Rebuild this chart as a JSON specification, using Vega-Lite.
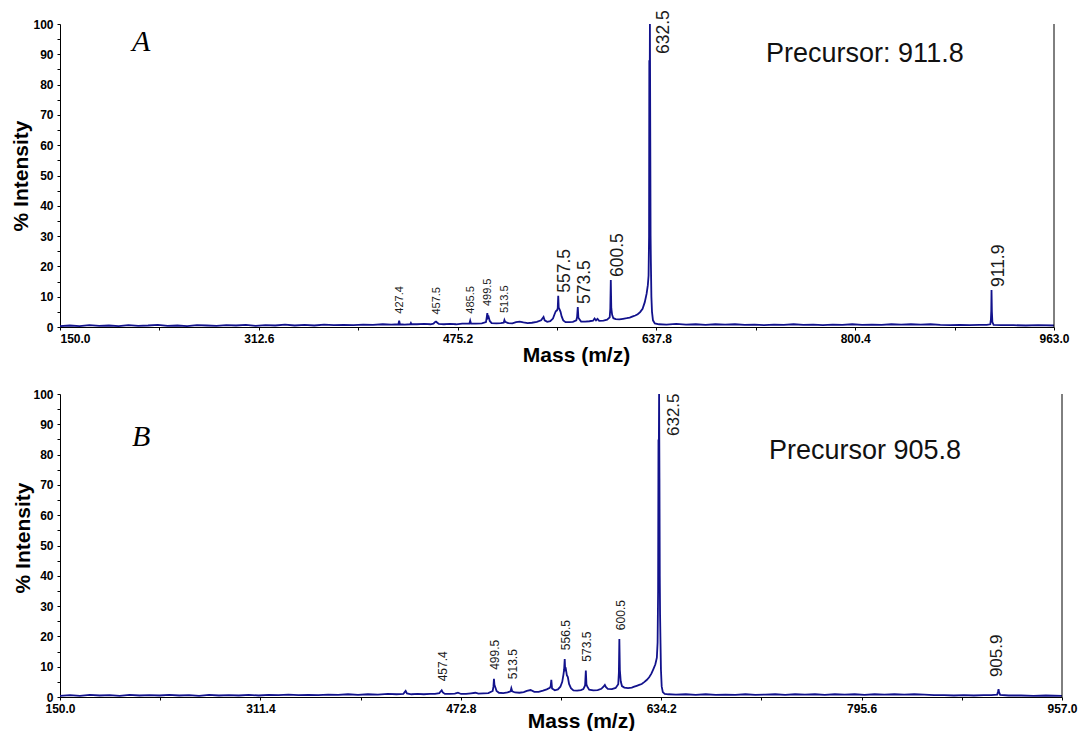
{
  "$schema": "https://vega.github.io/schema/vega-lite/v6.json",
  "autosize": {"type": "pad"},
  "padding": {"left": 10, "top": 10, "right": 0, "bottom": 0},
  "background": "white",
  "config": {
    "view": {"stroke": null},
    "axis": {
      "grid": false,
      "domainColor": "black",
      "domainWidth": 1,
      "tickColor": "black",
      "tickSize": 3,
      "labelColor": "black",
      "labelFont": "Liberation Sans",
      "labelFontWeight": "bold",
      "labelFontSize": 12,
      "labelOverlap": false,
      "labelFlush": false,
      "titleColor": "black",
      "titleFont": "Liberation Sans",
      "titleFontWeight": "bold",
      "titleFontSize": 21
    }
  },
  "datasets": {
    "spectrumA": [
      {"mz": 150, "intensity": 0.3}, {"mz": 158, "intensity": 0.5}, {"mz": 166, "intensity": 0.3}, {"mz": 174, "intensity": 0.6},
      {"mz": 182, "intensity": 0.4}, {"mz": 190, "intensity": 0.5}, {"mz": 198, "intensity": 0.3}, {"mz": 206, "intensity": 0.6},
      {"mz": 214, "intensity": 0.4}, {"mz": 222, "intensity": 0.5}, {"mz": 230, "intensity": 0.7}, {"mz": 238, "intensity": 0.4},
      {"mz": 246, "intensity": 0.5}, {"mz": 254, "intensity": 0.3}, {"mz": 262, "intensity": 0.6}, {"mz": 270, "intensity": 0.5},
      {"mz": 278, "intensity": 0.4}, {"mz": 286, "intensity": 0.6}, {"mz": 294, "intensity": 0.5}, {"mz": 302, "intensity": 0.7},
      {"mz": 310, "intensity": 0.4}, {"mz": 318, "intensity": 0.6}, {"mz": 326, "intensity": 0.5}, {"mz": 334, "intensity": 0.8},
      {"mz": 342, "intensity": 0.5}, {"mz": 350, "intensity": 0.7}, {"mz": 358, "intensity": 0.5}, {"mz": 366, "intensity": 0.8},
      {"mz": 374, "intensity": 0.6}, {"mz": 382, "intensity": 0.7}, {"mz": 390, "intensity": 0.6}, {"mz": 398, "intensity": 0.8},
      {"mz": 406, "intensity": 0.7}, {"mz": 414, "intensity": 0.9}, {"mz": 421, "intensity": 0.8}, {"mz": 426.8, "intensity": 0.9},
      {"mz": 427.4, "intensity": 2.1, "peak": "minor"}, {"mz": 428.0, "intensity": 0.9}, {"mz": 432, "intensity": 0.8},
      {"mz": 436.5, "intensity": 0.9}, {"mz": 437, "intensity": 1.3}, {"mz": 437.5, "intensity": 0.9}, {"mz": 442, "intensity": 0.9},
      {"mz": 448, "intensity": 1.0}, {"mz": 453, "intensity": 0.9}, {"mz": 455.5, "intensity": 1.1}, {"mz": 456.6, "intensity": 1.6},
      {"mz": 457.5, "intensity": 1.8, "peak": "minor"}, {"mz": 458.4, "intensity": 1.5}, {"mz": 459.8, "intensity": 1.0},
      {"mz": 464, "intensity": 0.9}, {"mz": 469, "intensity": 1.0}, {"mz": 474, "intensity": 0.9}, {"mz": 479, "intensity": 1.1},
      {"mz": 484.8, "intensity": 1.1}, {"mz": 485.5, "intensity": 2.1, "peak": "minor"}, {"mz": 486.2, "intensity": 1.1},
      {"mz": 490, "intensity": 1.1}, {"mz": 495, "intensity": 1.2}, {"mz": 498.4, "intensity": 1.6}, {"mz": 499.0, "intensity": 3.1},
      {"mz": 499.5, "intensity": 4.6, "peak": "minor"}, {"mz": 500.0, "intensity": 3.0}, {"mz": 500.6, "intensity": 3.3},
      {"mz": 501.5, "intensity": 2.0}, {"mz": 503, "intensity": 1.3}, {"mz": 507, "intensity": 1.2}, {"mz": 510.5, "intensity": 1.3},
      {"mz": 512.9, "intensity": 1.4}, {"mz": 513.5, "intensity": 2.3, "peak": "minor"}, {"mz": 514.1, "intensity": 1.7},
      {"mz": 516.5, "intensity": 1.3}, {"mz": 520, "intensity": 1.2}, {"mz": 523, "intensity": 1.6}, {"mz": 526, "intensity": 1.8},
      {"mz": 529, "intensity": 1.5}, {"mz": 532.5, "intensity": 1.3}, {"mz": 536, "intensity": 1.4}, {"mz": 540, "intensity": 1.7},
      {"mz": 543.5, "intensity": 2.2}, {"mz": 545.5, "intensity": 3.3}, {"mz": 546.4, "intensity": 2.2}, {"mz": 548.5, "intensity": 1.7},
      {"mz": 551, "intensity": 1.9}, {"mz": 553.2, "intensity": 2.8}, {"mz": 554.5, "intensity": 4.2}, {"mz": 555.5, "intensity": 5.2},
      {"mz": 556.5, "intensity": 5.5}, {"mz": 557.1, "intensity": 6.2}, {"mz": 557.5, "intensity": 10.3, "peak": "major"},
      {"mz": 557.9, "intensity": 6.4}, {"mz": 558.6, "intensity": 5.8}, {"mz": 559.4, "intensity": 5.0}, {"mz": 560.3, "intensity": 3.5},
      {"mz": 561.6, "intensity": 2.2}, {"mz": 563.5, "intensity": 1.6}, {"mz": 566.5, "intensity": 1.6}, {"mz": 569.5, "intensity": 1.7},
      {"mz": 572.3, "intensity": 2.2}, {"mz": 572.9, "intensity": 3.2}, {"mz": 573.5, "intensity": 6.6, "peak": "major"},
      {"mz": 574.0, "intensity": 3.1}, {"mz": 574.7, "intensity": 2.6}, {"mz": 576.2, "intensity": 1.8}, {"mz": 579.5, "intensity": 1.8},
      {"mz": 583, "intensity": 1.9}, {"mz": 586, "intensity": 2.1}, {"mz": 587.2, "intensity": 2.8}, {"mz": 588.4, "intensity": 2.2},
      {"mz": 589.6, "intensity": 2.7}, {"mz": 591, "intensity": 2.0}, {"mz": 594.5, "intensity": 2.1}, {"mz": 597.5, "intensity": 2.4},
      {"mz": 599.6, "intensity": 3.2}, {"mz": 600.1, "intensity": 6.0}, {"mz": 600.5, "intensity": 15.5, "peak": "major"},
      {"mz": 600.9, "intensity": 6.2}, {"mz": 601.6, "intensity": 4.0}, {"mz": 602.6, "intensity": 2.9}, {"mz": 604.5, "intensity": 2.6},
      {"mz": 607.5, "intensity": 2.5}, {"mz": 610.5, "intensity": 2.7}, {"mz": 613.5, "intensity": 2.9}, {"mz": 616, "intensity": 3.1},
      {"mz": 618.5, "intensity": 3.5}, {"mz": 620.5, "intensity": 3.8}, {"mz": 622.5, "intensity": 4.2}, {"mz": 624.5, "intensity": 4.9},
      {"mz": 626.5, "intensity": 6.0}, {"mz": 628.3, "intensity": 8.2}, {"mz": 629.8, "intensity": 11.0}, {"mz": 630.8, "intensity": 13.8},
      {"mz": 631.4, "intensity": 17.0}, {"mz": 631.8, "intensity": 30.0}, {"mz": 632.0, "intensity": 88.0}, {"mz": 632.25, "intensity": 70.0},
      {"mz": 632.5, "intensity": 100, "peak": "base"}, {"mz": 632.8, "intensity": 62.0}, {"mz": 633.05, "intensity": 30.0},
      {"mz": 633.3, "intensity": 21.0}, {"mz": 633.7, "intensity": 10.0}, {"mz": 634.2, "intensity": 5.0}, {"mz": 635, "intensity": 2.2},
      {"mz": 636.5, "intensity": 1.2}, {"mz": 640, "intensity": 0.9}, {"mz": 646, "intensity": 0.8}, {"mz": 654, "intensity": 1.0},
      {"mz": 662, "intensity": 0.8}, {"mz": 670, "intensity": 0.9}, {"mz": 678, "intensity": 0.7}, {"mz": 686, "intensity": 0.9},
      {"mz": 694, "intensity": 0.8}, {"mz": 702, "intensity": 0.9}, {"mz": 710, "intensity": 0.7}, {"mz": 718, "intensity": 0.8},
      {"mz": 726, "intensity": 0.6}, {"mz": 734, "intensity": 0.8}, {"mz": 742, "intensity": 0.7}, {"mz": 750, "intensity": 0.9},
      {"mz": 758, "intensity": 0.7}, {"mz": 766, "intensity": 0.8}, {"mz": 774, "intensity": 0.6}, {"mz": 782, "intensity": 0.8},
      {"mz": 790, "intensity": 0.7}, {"mz": 798, "intensity": 0.9}, {"mz": 806, "intensity": 0.7}, {"mz": 814, "intensity": 0.8},
      {"mz": 822, "intensity": 0.7}, {"mz": 830, "intensity": 0.9}, {"mz": 838, "intensity": 0.8}, {"mz": 846, "intensity": 0.9},
      {"mz": 854, "intensity": 0.8}, {"mz": 862, "intensity": 0.9}, {"mz": 870, "intensity": 0.7}, {"mz": 878, "intensity": 0.6},
      {"mz": 886, "intensity": 0.7}, {"mz": 894, "intensity": 0.6}, {"mz": 902, "intensity": 0.7}, {"mz": 908, "intensity": 0.7},
      {"mz": 910.9, "intensity": 0.9}, {"mz": 911.4, "intensity": 2.5}, {"mz": 911.7, "intensity": 5.5},
      {"mz": 911.9, "intensity": 12.2, "peak": "major"}, {"mz": 912.2, "intensity": 5.0}, {"mz": 912.6, "intensity": 1.6},
      {"mz": 913.6, "intensity": 0.7}, {"mz": 920, "intensity": 0.6}, {"mz": 930, "intensity": 0.6}, {"mz": 940, "intensity": 0.5},
      {"mz": 950, "intensity": 0.6}, {"mz": 963, "intensity": 0.5}
    ],
    "spectrumB": [
      {"mz": 150, "intensity": 0.4}, {"mz": 158, "intensity": 0.6}, {"mz": 166, "intensity": 0.4}, {"mz": 174, "intensity": 0.7},
      {"mz": 182, "intensity": 0.5}, {"mz": 190, "intensity": 0.6}, {"mz": 198, "intensity": 0.4}, {"mz": 206, "intensity": 0.7},
      {"mz": 214, "intensity": 0.5}, {"mz": 222, "intensity": 0.6}, {"mz": 230, "intensity": 0.5}, {"mz": 238, "intensity": 0.7},
      {"mz": 246, "intensity": 0.5}, {"mz": 254, "intensity": 0.6}, {"mz": 262, "intensity": 0.4}, {"mz": 270, "intensity": 0.7},
      {"mz": 278, "intensity": 0.5}, {"mz": 286, "intensity": 0.6}, {"mz": 294, "intensity": 0.5}, {"mz": 302, "intensity": 0.7},
      {"mz": 310, "intensity": 0.5}, {"mz": 318, "intensity": 0.7}, {"mz": 326, "intensity": 0.6}, {"mz": 334, "intensity": 0.8},
      {"mz": 342, "intensity": 0.6}, {"mz": 350, "intensity": 0.7}, {"mz": 358, "intensity": 0.6}, {"mz": 366, "intensity": 0.8},
      {"mz": 374, "intensity": 0.7}, {"mz": 382, "intensity": 0.9}, {"mz": 390, "intensity": 0.7}, {"mz": 398, "intensity": 0.9},
      {"mz": 406, "intensity": 0.8}, {"mz": 414, "intensity": 1.0}, {"mz": 421, "intensity": 0.9}, {"mz": 426.5, "intensity": 1.0},
      {"mz": 427.6, "intensity": 1.6}, {"mz": 428.4, "intensity": 2.0}, {"mz": 429.4, "intensity": 1.2}, {"mz": 433, "intensity": 0.9},
      {"mz": 438, "intensity": 1.0}, {"mz": 443, "intensity": 0.9}, {"mz": 448, "intensity": 1.0}, {"mz": 452, "intensity": 1.0},
      {"mz": 455.5, "intensity": 1.3}, {"mz": 456.5, "intensity": 1.8}, {"mz": 457.4, "intensity": 2.2, "peak": "minor"},
      {"mz": 458.3, "intensity": 1.5}, {"mz": 460, "intensity": 1.0}, {"mz": 464, "intensity": 1.0}, {"mz": 468, "intensity": 1.1},
      {"mz": 470.5, "intensity": 1.4}, {"mz": 473, "intensity": 1.0}, {"mz": 477, "intensity": 1.0}, {"mz": 481, "intensity": 1.2},
      {"mz": 484.5, "intensity": 1.4}, {"mz": 487, "intensity": 1.1}, {"mz": 491, "intensity": 1.2}, {"mz": 495, "intensity": 1.3},
      {"mz": 498.5, "intensity": 2.0}, {"mz": 499.1, "intensity": 3.5}, {"mz": 499.5, "intensity": 6.0, "peak": "minor"},
      {"mz": 499.9, "intensity": 4.0}, {"mz": 500.6, "intensity": 3.2}, {"mz": 501.6, "intensity": 2.0}, {"mz": 503.5, "intensity": 1.4},
      {"mz": 507, "intensity": 1.3}, {"mz": 510.5, "intensity": 1.5}, {"mz": 512.9, "intensity": 1.9},
      {"mz": 513.5, "intensity": 2.9, "peak": "minor"}, {"mz": 514.2, "intensity": 1.9}, {"mz": 516.5, "intensity": 1.5},
      {"mz": 520, "intensity": 1.4}, {"mz": 523.5, "intensity": 1.6}, {"mz": 526, "intensity": 2.0}, {"mz": 529, "intensity": 2.3},
      {"mz": 532, "intensity": 1.7}, {"mz": 535.5, "intensity": 1.7}, {"mz": 539, "intensity": 2.1}, {"mz": 542, "intensity": 2.5},
      {"mz": 544.5, "intensity": 3.0}, {"mz": 545.2, "intensity": 3.6}, {"mz": 545.7, "intensity": 5.7}, {"mz": 546.3, "intensity": 2.8},
      {"mz": 548.5, "intensity": 2.2}, {"mz": 551, "intensity": 2.5}, {"mz": 553, "intensity": 3.4}, {"mz": 554.5, "intensity": 5.0},
      {"mz": 555.5, "intensity": 7.5}, {"mz": 556.0, "intensity": 9.0}, {"mz": 556.5, "intensity": 12.5, "peak": "minor"},
      {"mz": 556.9, "intensity": 8.5}, {"mz": 557.5, "intensity": 9.0}, {"mz": 558.2, "intensity": 7.2}, {"mz": 559, "intensity": 6.6},
      {"mz": 560, "intensity": 4.3}, {"mz": 561.5, "intensity": 2.9}, {"mz": 563.5, "intensity": 2.2}, {"mz": 566.5, "intensity": 2.1},
      {"mz": 569.5, "intensity": 2.3}, {"mz": 571.5, "intensity": 2.6}, {"mz": 572.9, "intensity": 3.8},
      {"mz": 573.5, "intensity": 8.7, "peak": "minor"}, {"mz": 574.0, "intensity": 4.2}, {"mz": 574.7, "intensity": 3.4},
      {"mz": 576.2, "intensity": 2.4}, {"mz": 579.5, "intensity": 2.2}, {"mz": 583, "intensity": 2.3}, {"mz": 586, "intensity": 2.7},
      {"mz": 587.5, "intensity": 3.3}, {"mz": 588.8, "intensity": 4.0}, {"mz": 589.6, "intensity": 3.3}, {"mz": 591.2, "intensity": 2.7},
      {"mz": 594.5, "intensity": 2.6}, {"mz": 597.5, "intensity": 3.0}, {"mz": 599.6, "intensity": 4.2}, {"mz": 600.1, "intensity": 8.0},
      {"mz": 600.5, "intensity": 19.1, "peak": "minor"}, {"mz": 600.9, "intensity": 9.0}, {"mz": 601.6, "intensity": 5.2},
      {"mz": 602.6, "intensity": 3.6}, {"mz": 604.5, "intensity": 3.1}, {"mz": 607.5, "intensity": 2.9}, {"mz": 610.5, "intensity": 3.1},
      {"mz": 612.5, "intensity": 3.4}, {"mz": 614.5, "intensity": 3.7}, {"mz": 616.5, "intensity": 4.0}, {"mz": 618.5, "intensity": 4.3},
      {"mz": 620.5, "intensity": 4.9}, {"mz": 622.5, "intensity": 5.6}, {"mz": 624.5, "intensity": 6.5}, {"mz": 626.3, "intensity": 7.7},
      {"mz": 628.0, "intensity": 9.3}, {"mz": 629.5, "intensity": 10.8}, {"mz": 630.7, "intensity": 13.0}, {"mz": 631.3, "intensity": 18.0},
      {"mz": 631.7, "intensity": 35.0}, {"mz": 632.0, "intensity": 85.0}, {"mz": 632.25, "intensity": 78.0},
      {"mz": 632.5, "intensity": 100, "peak": "base"}, {"mz": 632.8, "intensity": 72.0}, {"mz": 633.05, "intensity": 40.0},
      {"mz": 633.3, "intensity": 27.0}, {"mz": 633.6, "intensity": 19.0}, {"mz": 634.0, "intensity": 9.0}, {"mz": 634.6, "intensity": 3.5},
      {"mz": 635.5, "intensity": 1.6}, {"mz": 637, "intensity": 1.0}, {"mz": 640, "intensity": 0.9}, {"mz": 646, "intensity": 0.8},
      {"mz": 654, "intensity": 0.9}, {"mz": 662, "intensity": 0.7}, {"mz": 670, "intensity": 0.9}, {"mz": 678, "intensity": 0.7},
      {"mz": 686, "intensity": 0.8}, {"mz": 694, "intensity": 0.7}, {"mz": 702, "intensity": 0.9}, {"mz": 710, "intensity": 0.7},
      {"mz": 718, "intensity": 0.8}, {"mz": 726, "intensity": 0.9}, {"mz": 734, "intensity": 0.7}, {"mz": 742, "intensity": 0.9},
      {"mz": 750, "intensity": 0.8}, {"mz": 758, "intensity": 0.9}, {"mz": 766, "intensity": 0.7}, {"mz": 774, "intensity": 0.9},
      {"mz": 782, "intensity": 0.8}, {"mz": 790, "intensity": 0.9}, {"mz": 798, "intensity": 0.7}, {"mz": 806, "intensity": 0.9},
      {"mz": 814, "intensity": 0.8}, {"mz": 822, "intensity": 0.9}, {"mz": 830, "intensity": 0.8}, {"mz": 838, "intensity": 0.9},
      {"mz": 846, "intensity": 0.8}, {"mz": 854, "intensity": 0.6}, {"mz": 862, "intensity": 0.6}, {"mz": 870, "intensity": 0.5},
      {"mz": 878, "intensity": 0.6}, {"mz": 886, "intensity": 0.5}, {"mz": 894, "intensity": 0.6}, {"mz": 900, "intensity": 0.6},
      {"mz": 904.8, "intensity": 0.8}, {"mz": 905.5, "intensity": 1.8}, {"mz": 905.9, "intensity": 2.6, "peak": "major"},
      {"mz": 906.3, "intensity": 1.6}, {"mz": 907.2, "intensity": 0.7}, {"mz": 914, "intensity": 0.5}, {"mz": 924, "intensity": 0.5},
      {"mz": 934, "intensity": 0.4}, {"mz": 944, "intensity": 0.5}, {"mz": 957, "intensity": 0.4}
    ]
  },
  "vconcat": [
    {
      "width": 994,
      "height": 303,
      "data": {"name": "spectrumA"},
      "layer": [
        {
          "mark": {"type": "line", "color": "#12128c", "strokeWidth": 1.8},
          "encoding": {
            "x": {
              "field": "mz", "type": "quantitative",
              "scale": {"domain": [150, 963], "nice": false, "zero": false},
              "axis": {
                "values": [150, 231.3, 312.6, 393.9, 475.2, 556.5, 637.8, 719.1, 800.4, 881.7, 963],
                "tickCount": 11,
                "format": ".1f",
                "labelExpr": "indexof([231.3, 393.9, 556.5, 719.1, 881.7], datum.value) >= 0 ? '' : datum.label",
                "labelAlign": {"condition": {"test": "datum.value == 150", "value": "left"}, "value": "center"},
                "labelOverlap": false,
                "labelFlush": false,
                "labelPadding": 3,
                "title": "Mass (m/z)",
                "titleX": 516, "titleY": 34,
                "titleAlign": "center", "titleBaseline": "alphabetic"
              }
            },
            "y": {
              "field": "intensity", "type": "quantitative",
              "scale": {"domain": [0, 100], "nice": false},
              "axis": {
                "values": [0, 5, 10, 15, 20, 25, 30, 35, 40, 45, 50, 55, 60, 65, 70, 75, 80, 85, 90, 95, 100],
                "tickCount": 21,
                "format": "d",
                "labelExpr": "datum.value % 10 ? '' : datum.label",
                "labelOverlap": false,
                "labelPadding": 4,
                "title": "% Intensity",
                "titleX": -39, "titleY": 151.5, "titleAngle": 270,
                "titleAlign": "center", "titleBaseline": "middle"
              }
            }
          }
        },
        {
          "transform": [{"filter": "datum.peak == 'minor'"}],
          "mark": {"type": "text", "angle": 270, "align": "left", "baseline": "middle", "dx": 7, "dy": 1, "font": "Liberation Sans", "fontSize": 11, "color": "#1a1a1a"},
          "encoding": {
            "x": {"field": "mz", "type": "quantitative", "scale": {"domain": [150, 963], "nice": false, "zero": false}},
            "y": {"field": "intensity", "type": "quantitative", "scale": {"domain": [0, 100], "nice": false}},
            "text": {"field": "mz", "type": "quantitative", "format": ".1f"}
          }
        },
        {
          "transform": [{"filter": "datum.peak == 'major'"}],
          "mark": {"type": "text", "angle": 270, "align": "left", "baseline": "middle", "dx": 3, "dy": 7, "font": "Liberation Sans", "fontSize": 17.5, "color": "#1a1a1a"},
          "encoding": {
            "x": {"field": "mz", "type": "quantitative", "scale": {"domain": [150, 963], "nice": false, "zero": false}},
            "y": {"field": "intensity", "type": "quantitative", "scale": {"domain": [0, 100], "nice": false}},
            "text": {"field": "mz", "type": "quantitative", "format": ".1f"}
          }
        },
        {
          "transform": [{"filter": "datum.peak == 'base'"}],
          "mark": {"type": "text", "angle": 270, "align": "left", "baseline": "middle", "dx": -30, "dy": 14, "font": "Liberation Sans", "fontSize": 17.5, "color": "#1a1a1a"},
          "encoding": {
            "x": {"field": "mz", "type": "quantitative", "scale": {"domain": [150, 963], "nice": false, "zero": false}},
            "y": {"field": "intensity", "type": "quantitative", "scale": {"domain": [0, 100], "nice": false}},
            "text": {"field": "mz", "type": "quantitative", "format": ".1f"}
          }
        },
        {
          "data": {"values": [{}]},
          "mark": {"type": "rule", "color": "black", "strokeWidth": 1},
          "encoding": {
            "x": {"datum": 963, "type": "quantitative", "scale": {"domain": [150, 963], "nice": false, "zero": false}},
            "y": {"datum": 0, "type": "quantitative", "scale": {"domain": [0, 100], "nice": false}},
            "y2": {"datum": 100}
          }
        },
        {
          "data": {"values": [{}]},
          "mark": {"type": "text", "text": "A", "align": "left", "baseline": "alphabetic", "font": "Liberation Serif", "fontStyle": "italic", "fontSize": 30, "color": "black"},
          "encoding": {
            "x": {"datum": 208.9, "type": "quantitative", "scale": {"domain": [150, 963], "nice": false, "zero": false}},
            "y": {"datum": 91.1, "type": "quantitative", "scale": {"domain": [0, 100], "nice": false}}
          }
        },
        {
          "data": {"values": [{}]},
          "mark": {"type": "text", "text": "Precursor: 911.8", "align": "left", "baseline": "alphabetic", "font": "Liberation Sans", "fontSize": 27, "color": "#111111"},
          "encoding": {
            "x": {"datum": 727.5, "type": "quantitative", "scale": {"domain": [150, 963], "nice": false, "zero": false}},
            "y": {"datum": 87.5, "type": "quantitative", "scale": {"domain": [0, 100], "nice": false}}
          }
        }
      ]
    },
    {
      "width": 1002,
      "height": 303,
      "data": {"name": "spectrumB"},
      "layer": [
        {
          "mark": {"type": "line", "color": "#12128c", "strokeWidth": 1.8},
          "encoding": {
            "x": {
              "field": "mz", "type": "quantitative",
              "scale": {"domain": [150, 957], "nice": false, "zero": false},
              "axis": {
                "values": [150, 230.7, 311.4, 392.1, 472.8, 553.5, 634.2, 714.9, 795.6, 876.3, 957],
                "tickCount": 11,
                "format": ".1f",
                "labelExpr": "indexof([230.7, 392.1, 553.5, 714.9, 876.3], datum.value) >= 0 ? '' : datum.label",
                "labelOverlap": false,
                "labelFlush": false,
                "labelPadding": 3,
                "title": "Mass (m/z)",
                "titleX": 521, "titleY": 30,
                "titleAlign": "center", "titleBaseline": "alphabetic"
              }
            },
            "y": {
              "field": "intensity", "type": "quantitative",
              "scale": {"domain": [0, 100], "nice": false},
              "axis": {
                "values": [0, 5, 10, 15, 20, 25, 30, 35, 40, 45, 50, 55, 60, 65, 70, 75, 80, 85, 90, 95, 100],
                "tickCount": 21,
                "format": "d",
                "labelExpr": "datum.value % 10 ? '' : datum.label",
                "labelOverlap": false,
                "labelPadding": 4,
                "title": "% Intensity",
                "titleX": -37, "titleY": 143.5, "titleAngle": 270,
                "titleAlign": "center", "titleBaseline": "middle"
              }
            }
          }
        },
        {
          "transform": [{"filter": "datum.peak == 'minor'"}],
          "mark": {"type": "text", "angle": 270, "align": "left", "baseline": "middle", "dx": 9, "dy": 1.5, "font": "Liberation Sans", "fontSize": 12, "color": "#1a1a1a"},
          "encoding": {
            "x": {"field": "mz", "type": "quantitative", "scale": {"domain": [150, 957], "nice": false, "zero": false}},
            "y": {"field": "intensity", "type": "quantitative", "scale": {"domain": [0, 100], "nice": false}},
            "text": {"field": "mz", "type": "quantitative", "format": ".1f"}
          }
        },
        {
          "transform": [{"filter": "datum.peak == 'major'"}],
          "mark": {"type": "text", "angle": 270, "align": "left", "baseline": "middle", "dx": 12, "dy": -2, "font": "Liberation Sans", "fontSize": 17, "color": "#1a1a1a"},
          "encoding": {
            "x": {"field": "mz", "type": "quantitative", "scale": {"domain": [150, 957], "nice": false, "zero": false}},
            "y": {"field": "intensity", "type": "quantitative", "scale": {"domain": [0, 100], "nice": false}},
            "text": {"field": "mz", "type": "quantitative", "format": ".1f"}
          }
        },
        {
          "transform": [{"filter": "datum.peak == 'base'"}],
          "mark": {"type": "text", "angle": 270, "align": "left", "baseline": "middle", "dx": -42, "dy": 14.5, "font": "Liberation Sans", "fontSize": 17, "color": "#1a1a1a"},
          "encoding": {
            "x": {"field": "mz", "type": "quantitative", "scale": {"domain": [150, 957], "nice": false, "zero": false}},
            "y": {"field": "intensity", "type": "quantitative", "scale": {"domain": [0, 100], "nice": false}},
            "text": {"field": "mz", "type": "quantitative", "format": ".1f"}
          }
        },
        {
          "data": {"values": [{}]},
          "mark": {"type": "rule", "color": "black", "strokeWidth": 1},
          "encoding": {
            "x": {"datum": 957, "type": "quantitative", "scale": {"domain": [150, 957], "nice": false, "zero": false}},
            "y": {"datum": 0, "type": "quantitative", "scale": {"domain": [0, 100], "nice": false}},
            "y2": {"datum": 100}
          }
        },
        {
          "data": {"values": [{}]},
          "mark": {"type": "text", "text": "B", "align": "left", "baseline": "alphabetic", "font": "Liberation Serif", "fontStyle": "italic", "fontSize": 30, "color": "black"},
          "encoding": {
            "x": {"datum": 208, "type": "quantitative", "scale": {"domain": [150, 957], "nice": false, "zero": false}},
            "y": {"datum": 82.8, "type": "quantitative", "scale": {"domain": [0, 100], "nice": false}}
          }
        },
        {
          "data": {"values": [{}]},
          "mark": {"type": "text", "text": "Precursor 905.8", "align": "left", "baseline": "alphabetic", "font": "Liberation Sans", "fontSize": 27, "color": "#111111"},
          "encoding": {
            "x": {"datum": 721, "type": "quantitative", "scale": {"domain": [150, 957], "nice": false, "zero": false}},
            "y": {"datum": 78.5, "type": "quantitative", "scale": {"domain": [0, 100], "nice": false}}
          }
        }
      ]
    }
  ],
  "spacing": 67,
  "bounds": "flush"
}
